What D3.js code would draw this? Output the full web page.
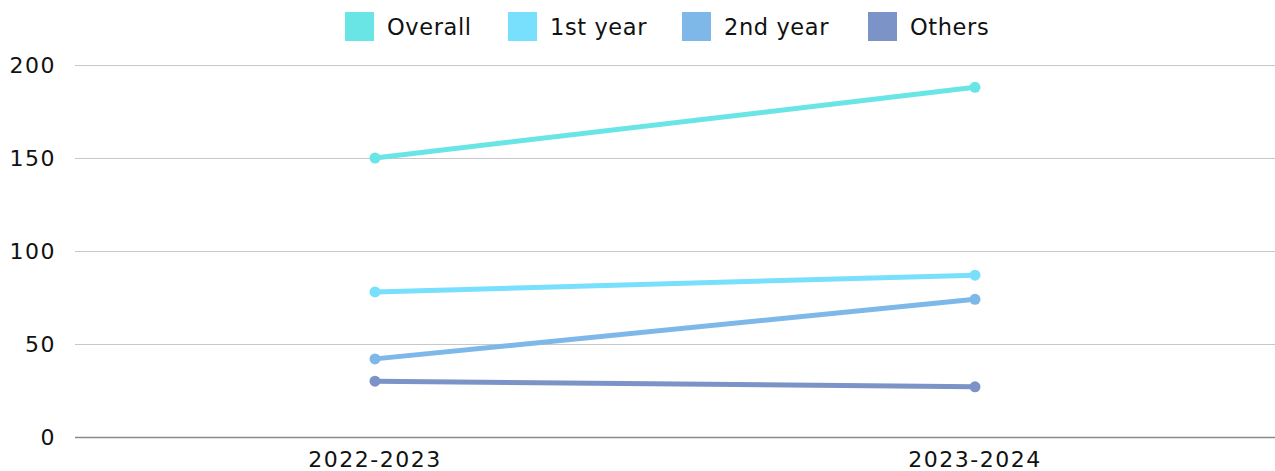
<!DOCTYPE html>
<html><head><meta charset="utf-8">
<script src="https://cdn.jsdelivr.net/npm/d3@7"></script>
<style>body{margin:0;background:#fff}svg{display:block;font-family:"DejaVu Sans",sans-serif}</style>
</head><body><svg id="c" width="1275" height="471"></svg>
<script>
const categories = ["2022-2023", "2023-2024"];
const seriesNames = ["Overall", "1st year", "2nd year", "Others"];
const overall = [150, 188];
const firstYear = [78, 87];
const secondYear = [42, 74];
const others = [30, 27];
const yTicks = [0, 50, 100, 150, 200];
const colors = ["#6AE5E6", "#78DFFC", "#7DB8E8", "#7B93C6"];

const series = [overall, firstYear, secondYear, others].map((v, i) => ({name: seriesNames[i], values: v, color: colors[i]}));

const FONT = "'DejaVu Sans', sans-serif";
const svg = d3.select("#c");
const m = {l: 75, r: 0, t: 65, b: 34};
const W = 1275, H = 471;
const x = d3.scaleBand().domain(categories).range([m.l, W - m.r]);
const y = d3.scaleLinear().domain([0, 200]).range([H - m.b, m.t]);
const AFS = 22, LFS = 22.5;

const ya = svg.append("g").attr("transform", `translate(${m.l},0)`)
  .call(d3.axisLeft(y).tickValues(yTicks).tickSize(-(W - m.l - m.r)))
  .attr("font-family", FONT);
ya.select(".domain").remove();
ya.selectAll(".tick line").attr("stroke", "#c8c8c8").attr("stroke-width", 1);
ya.selectAll(".tick").filter(d => d === 0).select("line").attr("stroke", "#8a8a8a").attr("stroke-width", 1.5);
ya.selectAll("text").attr("font-size", AFS).style("letter-spacing", "1.5px").attr("fill", "#111")
  .attr("x", -19).attr("text-anchor", "end");

const xa = svg.append("g").attr("transform", `translate(0,${H - m.b})`)
  .call(d3.axisBottom(x).tickSize(0).tickPadding(14))
  .attr("font-family", FONT);
xa.select(".domain").remove();
xa.selectAll("text").attr("font-size", AFS).style("letter-spacing", "1.5px").attr("fill", "#111").attr("dy", "0.71em");

const line = d3.line().x((d, i) => x(categories[i]) + x.bandwidth() / 2).y(d => y(d));
series.slice().reverse().forEach(s => {
  svg.append("path").datum(s.values).attr("d", line).attr("fill", "none")
    .attr("stroke", s.color).attr("stroke-width", 5);
  svg.selectAll(null).data(s.values).enter().append("circle")
    .attr("cx", (d, i) => x(categories[i]) + x.bandwidth() / 2)
    .attr("cy", d => y(d)).attr("r", 5.5).attr("fill", s.color);
});

const legendX = [345, 508, 682, 868];
const lg = svg.append("g").attr("font-family", FONT);
series.forEach((s, i) => {
  const g = lg.append("g").attr("transform", `translate(${legendX[i]},12)`);
  g.append("rect").attr("width", 29).attr("height", 29).attr("fill", s.color);
  g.append("text").attr("x", 42).attr("y", 14.5).attr("dy", "0.36em")
    .attr("font-size", LFS).style("letter-spacing", "0.6px").attr("fill", "#111").text(s.name);
});
</script></body></html>
